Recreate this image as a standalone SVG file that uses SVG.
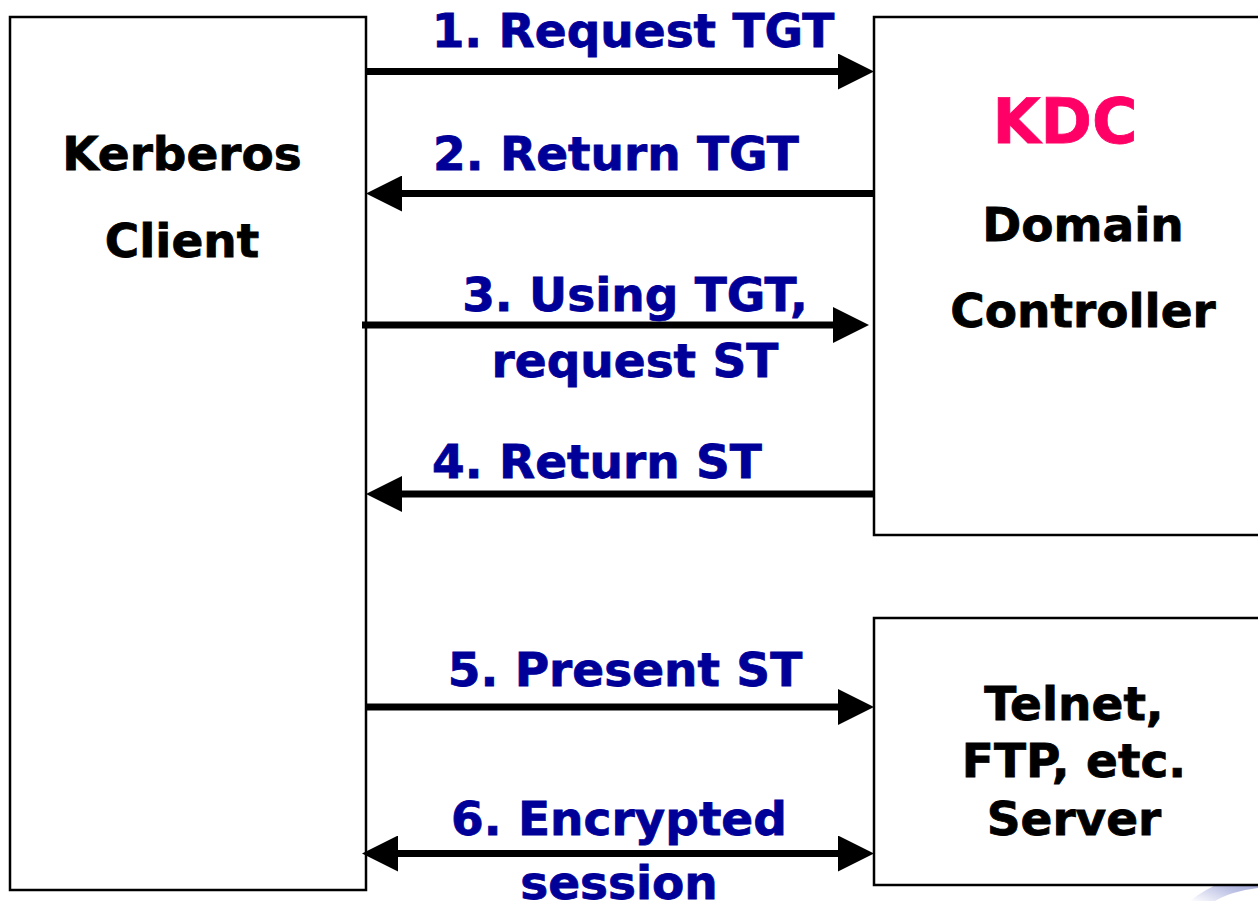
<svg xmlns="http://www.w3.org/2000/svg" width="1258" height="901" viewBox="0 0 1258 901">
<defs>
<style>
.box{fill:#fff;stroke:#000;stroke-width:2.5}
.t{font-family:"DejaVu Sans","Verdana",sans-serif;font-weight:bold;font-size:47px;text-anchor:middle;stroke-width:0.8}
.blk{fill:#000;stroke:#000}
.blu{fill:#000099;stroke:#000099}
.kdc{fill:#FF0066;stroke:#FF0066;font-size:62px}
.arr{stroke:#000;stroke-width:7;fill:none}
</style>
<marker id="ah" viewBox="0 0 36 36" refX="8" refY="18" markerWidth="36" markerHeight="36" markerUnits="userSpaceOnUse" orient="auto">
<path d="M0,0 L36,18 L0,36 Z" fill="#000"/>
</marker>
<marker id="ahs" viewBox="0 0 36 36" refX="8" refY="18" markerWidth="36" markerHeight="36" markerUnits="userSpaceOnUse" orient="auto-start-reverse">
<path d="M0,0 L36,18 L0,36 Z" fill="#000"/>
</marker>
<linearGradient id="sw" x1="0" y1="1" x2="1" y2="0">
<stop offset="0" stop-color="#ffffff"/>
<stop offset="0.5" stop-color="#aab0dd"/>
<stop offset="1" stop-color="#7c82c4"/>
</linearGradient>
</defs>
<rect width="1258" height="901" fill="#fff"/>
<path d="M1190,901 C1210,885 1235,876 1258,872 L1258,888 C1240,890 1225,895 1215,901 Z" fill="url(#sw)" opacity="0.8"/>
<g id="client">
<rect class="box" x="10" y="17" width="356" height="873"/>
<text class="t blk" x="182" y="170">Kerberos</text>
<text class="t blk" x="182" y="257">Client</text>
</g>
<g id="kdc">
<rect class="box" x="874" y="17" width="400" height="518"/>
<text class="t kdc" x="1065" y="143">KDC</text>
<text class="t blk" x="1083" y="241">Domain</text>
<text class="t blk" x="1083" y="327">Controller</text>
</g>
<g id="server">
<rect class="box" x="874" y="618" width="400" height="267"/>
<text class="t blk" x="1074" y="720">Telnet,</text>
<text class="t blk" x="1074" y="777">FTP, etc.</text>
<text class="t blk" x="1074" y="835">Server</text>
</g>
<g id="connectors">
<line class="arr" x1="366" y1="71.5" x2="846" y2="71.5" marker-end="url(#ah)"/>
<line class="arr" x1="874" y1="193.5" x2="394" y2="193.5" marker-end="url(#ah)"/>
<line class="arr" x1="362" y1="325" x2="841" y2="325" marker-end="url(#ah)"/>
<line class="arr" x1="874" y1="494" x2="394" y2="494" marker-end="url(#ah)"/>
<line class="arr" x1="366" y1="707" x2="846" y2="707" marker-end="url(#ah)"/>
<line class="arr" x1="390" y1="853.5" x2="846" y2="853.5" marker-start="url(#ahs)" marker-end="url(#ah)"/>
</g>
<g id="labels">
<text class="t blu" x="633" y="47">1. Request TGT</text>
<text class="t blu" x="616" y="170">2. Return TGT</text>
<text class="t blu" x="635" y="311">3. Using TGT,</text>
<text class="t blu" x="635" y="377">request ST</text>
<text class="t blu" x="597" y="478">4. Return ST</text>
<text class="t blu" x="625" y="686">5. Present ST</text>
<text class="t blu" x="619" y="835">6. Encrypted</text>
<text class="t blu" x="619" y="899">session</text>
</g>
</svg>
